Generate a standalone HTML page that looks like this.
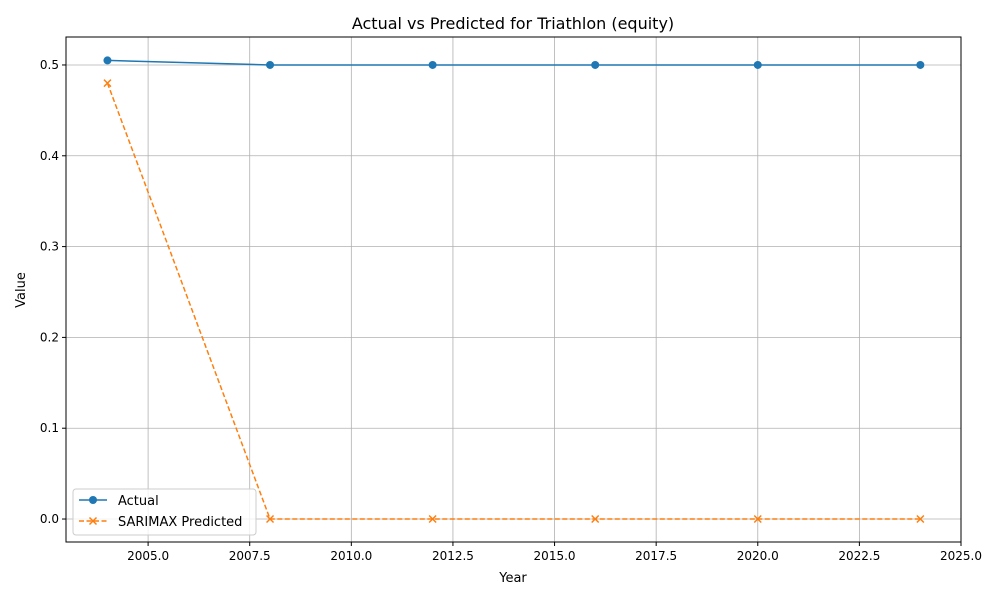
<!DOCTYPE html>
<html><head><meta charset="utf-8"><style>
body{margin:0;background:#fff;font-family:"Liberation Sans","DejaVu Sans",sans-serif;}
text{font-family:"DejaVu Sans","Liberation Sans",sans-serif;}
</style></head><body>
<svg id="chart" width="1000" height="600">
<rect width="1000" height="600" fill="#fff"/>
<g id="grid"></g><g id="axes"></g><g id="series"></g>
<text x="513" y="29" font-size="16" text-anchor="middle">Actual vs Predicted for Triathlon (equity)</text>
<text x="513" y="582" font-size="13" text-anchor="middle">Year</text>
<text x="25" y="290" font-size="13" text-anchor="middle" transform="rotate(-90 25 290)">Value</text>
<g>
<rect x="73" y="489" width="183" height="46" fill="#fff" fill-opacity="0.8" stroke="#ccc" rx="3"/>
<line x1="79" y1="500" x2="107" y2="500" stroke="#1f77b4" stroke-width="1.5"/>
<circle cx="93" cy="500" r="4" fill="#1f77b4"/>
<text x="118" y="505" font-size="13">Actual</text>
<line x1="79" y1="521" x2="107" y2="521" stroke="#ff7f0e" stroke-width="1.5" stroke-dasharray="5,2.5"/>
<path d="M89.5 517.5l7 7M96.5 517.5l-7 7" stroke="#ff7f0e" stroke-width="1.5"/>
<text x="118" y="526" font-size="13">SARIMAX Predicted</text>
</g>
</svg>
<script>
const years=[2004,2008,2012,2016,2020,2024];
const actual=[0.505,0.5,0.5,0.5,0.5,0.5];
const predicted=[0.48,0,0,0,0,0];
const xTicks=[2005,2007.5,2010,2012.5,2015,2017.5,2020,2022.5,2025];
const yTicks=[0,0.1,0.2,0.3,0.4,0.5];
const L=66,R=961,T=37,B=542,xmin=2002.98,xmax=2025,ymin=-0.0253,ymax=0.5308;
const X=v=>L+(v-xmin)/(xmax-xmin)*(R-L);
const Y=v=>B-(v-ymin)/(ymax-ymin)*(B-T);
const NS="http://www.w3.org/2000/svg";
function mk(p,tag,a){const e=document.createElementNS(NS,tag);for(const k in a)e.setAttribute(k,a[k]);p.appendChild(e);return e;}
const g=document.getElementById('grid'),ax=document.getElementById('axes'),s=document.getElementById('series');
xTicks.forEach(t=>{const x=X(t);
const l=mk(g,'line',{x1:x,x2:x,y1:T,y2:B,stroke:'#b0b0b0','stroke-width':0.8});


mk(ax,'line',{x1:x,x2:x,y1:B,y2:B+4,stroke:'#000'});
const tx=mk(ax,'text',{x:x,y:B+18,'font-size':12,'text-anchor':'middle'});tx.textContent=t.toFixed(1);

});
yTicks.forEach(t=>{const y=Y(t);
const l=mk(g,'line',{x1:L,x2:R,y1:y,y2:y,stroke:'#b0b0b0','stroke-width':0.8});


mk(ax,'line',{x1:L-4,x2:L,y1:y,y2:y,stroke:'#000'});
const tx=mk(ax,'text',{x:L-7,y:y+4,'font-size':12,'text-anchor':'end'});tx.textContent=t.toFixed(1);

});
const fr=mk(ax,'rect',{x:L,y:T,width:R-L,height:B-T,fill:'none',stroke:'#000','stroke-width':1});


const pa=mk(s,'polyline',{points:years.map((y,i)=>X(y)+','+Y(actual[i])).join(' '),fill:'none',stroke:'#1f77b4','stroke-width':1.5});


const pp=mk(s,'polyline',{points:years.map((y,i)=>X(y)+','+Y(predicted[i])).join(' '),fill:'none',stroke:'#ff7f0e','stroke-width':1.5,'stroke-dasharray':'5,2.5'});


years.forEach((yr,i)=>{
const c=mk(s,'circle',{cx:X(yr),cy:Y(actual[i]),r:4,fill:'#1f77b4'});


const x=X(yr),y=Y(predicted[i]);
const m=mk(s,'path',{d:`M${x-3.5} ${y-3.5}l7 7M${x+3.5} ${y-3.5}l-7 7`,stroke:'#ff7f0e','stroke-width':1.5});

});
</script>
</body></html>
